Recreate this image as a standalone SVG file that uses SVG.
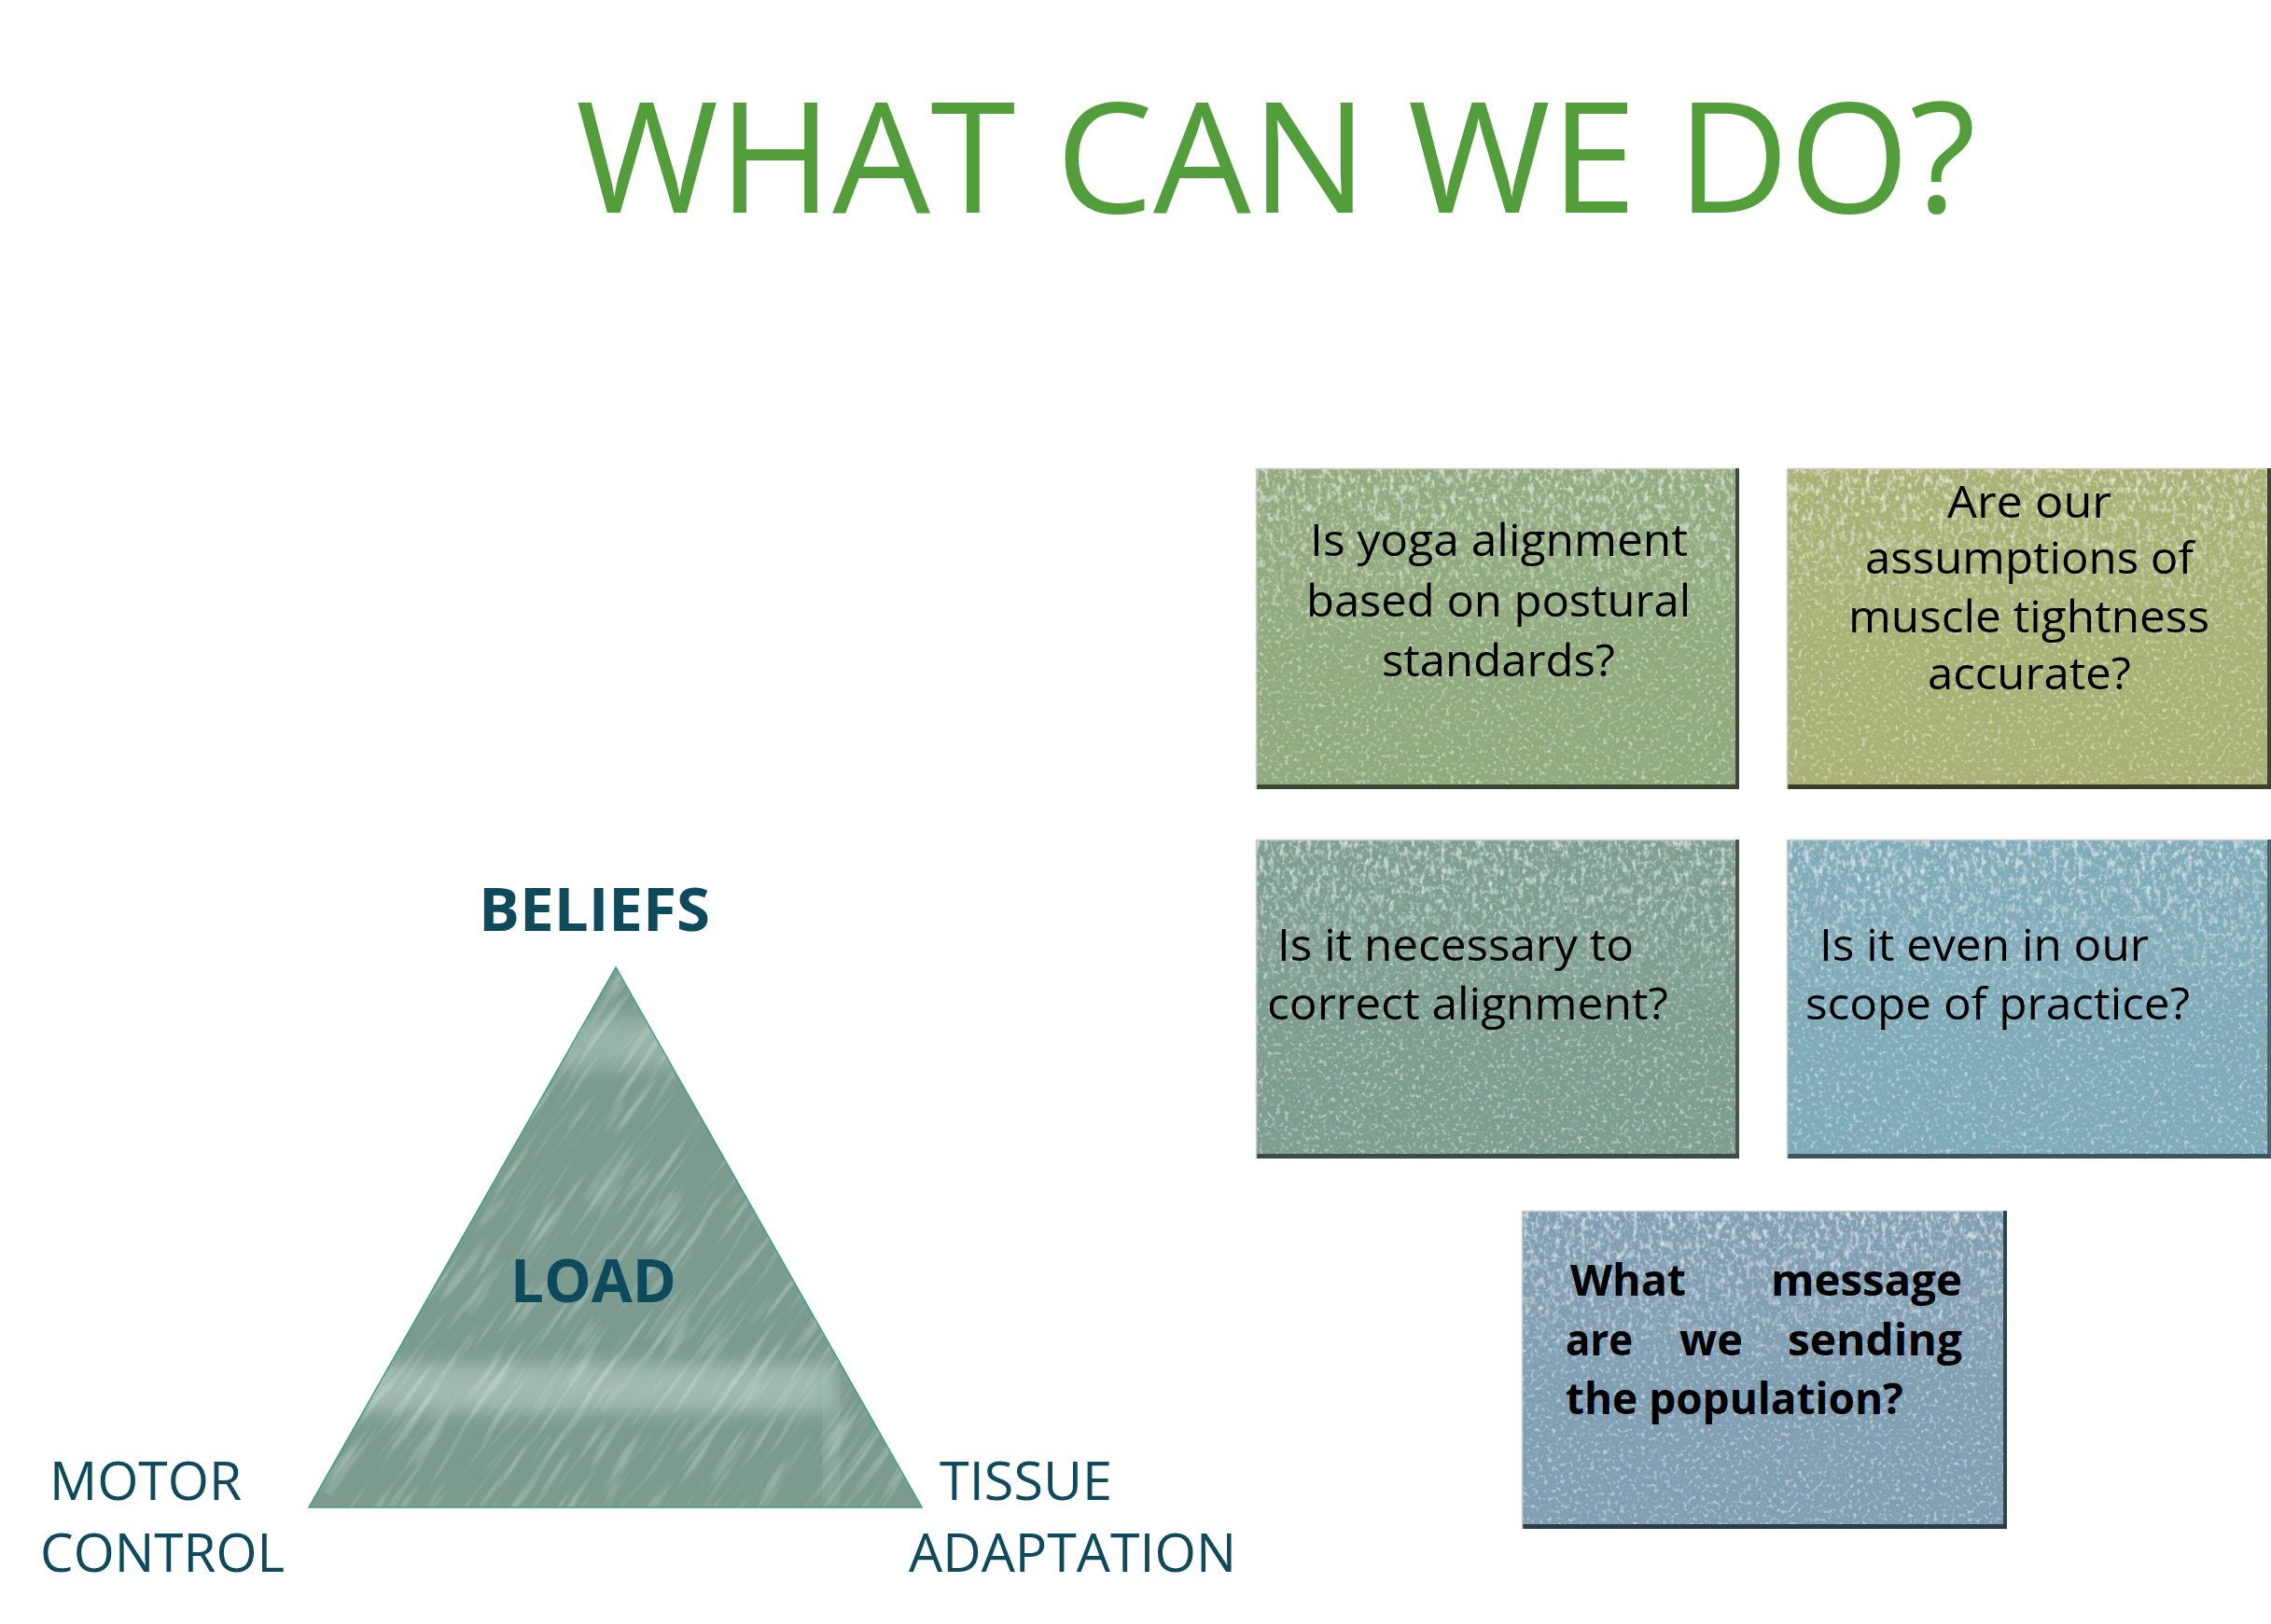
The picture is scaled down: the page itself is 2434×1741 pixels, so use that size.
<svg xmlns="http://www.w3.org/2000/svg" width="2434" height="1741" viewBox="0 0 2434 1741">
<style>
.title{font-family:"Open Sans","Liberation Sans",sans-serif;font-size:164px;fill:#529e3a}
.q{font-family:"Open Sans","Liberation Sans",sans-serif;font-size:48px;fill:#000}
.qb{font-family:"Open Sans","Liberation Sans",sans-serif;font-size:46px;font-weight:bold;fill:#000}
.lab{font-family:"Open Sans","Liberation Sans",sans-serif;font-size:56px;fill:#0d4a5b}
.labb{font-family:"Open Sans","Liberation Sans",sans-serif;font-size:64px;font-weight:bold;fill:#0d4a5b}
.edge-hi{fill:none;stroke:#c9cec6;stroke-width:1.5}
.spk{fill:#fff;filter:url(#spk);opacity:0.45}
.spk2{fill:#fff;filter:url(#spk2);opacity:0.55}
</style>
<defs>
<filter id="spk" x="0" y="0" width="100%" height="100%">
<feTurbulence type="fractalNoise" baseFrequency="0.22" numOctaves="2" seed="7" result="n"/>
<feColorMatrix in="n" type="matrix" values="0 0 0 0 1  0 0 0 0 1  0 0 0 0 1  4 0 0 0 -2.15" result="s"/>
<feComposite in="s" in2="SourceAlpha" operator="in"/>
</filter>
<filter id="spk2" x="0" y="0" width="100%" height="100%">
<feTurbulence type="fractalNoise" baseFrequency="0.18 0.1" numOctaves="2" seed="3" result="n"/>
<feColorMatrix in="n" type="matrix" values="0 0 0 0 1  0 0 0 0 1  0 0 0 0 1  4 0 0 0 -2.0" result="s"/>
<feComposite in="s" in2="SourceAlpha" operator="in"/>
</filter>
<filter id="streak" x="0" y="0" width="100%" height="100%">
<feTurbulence type="fractalNoise" baseFrequency="0.012 0.12" numOctaves="2" seed="5" result="n"/>
<feColorMatrix in="n" type="matrix" values="0 0 0 0 1  0 0 0 0 1  0 0 0 0 1  3 0 0 0 -1.5" result="s"/>
<feComposite in="s" in2="SourceAlpha" operator="in"/>
</filter>
<filter id="soft" x="-20%" y="-50%" width="140%" height="200%">
<feGaussianBlur stdDeviation="10"/>
</filter>
<linearGradient id="topfade" x1="0" y1="0" x2="0" y2="1">
<stop offset="0" stop-color="#fff" stop-opacity="1"/>
<stop offset="0.3" stop-color="#fff" stop-opacity="0.6"/>
<stop offset="0.55" stop-color="#fff" stop-opacity="0"/>
</linearGradient>
<mask id="topmask" maskContentUnits="objectBoundingBox">
<rect x="0" y="0" width="1" height="1" fill="url(#topfade)"/>
</mask>
<clipPath id="triclip"><polygon points="660,1037 331,1616 988,1616"/></clipPath>
</defs>

<g id="title">
<text class="title" x="617" y="228" textLength="1501" lengthAdjust="spacingAndGlyphs">WHAT CAN WE DO?</text>
</g>

<g id="connectors"></g>

<g id="box1">
<rect x="1346" y="502" width="518" height="344" fill="#91aa7e"/>
<rect class="spk" x="1346" y="502" width="518" height="344"/>
<rect class="spk2" x="1346" y="502" width="518" height="344" mask="url(#topmask)"/>
<rect x="1860" y="502" width="4" height="344" fill="#3f4a36"/>
<rect x="1346" y="841" width="518" height="5" fill="#3a4432"/>
<path class="edge-hi" d="M1346.5,846 V502.5 H1860"/>
<text class="q" x="1404" y="596" textLength="405" lengthAdjust="spacingAndGlyphs">Is yoga alignment</text>
<text class="q" x="1400" y="661" textLength="412" lengthAdjust="spacingAndGlyphs">based on postural</text>
<text class="q" x="1481" y="725" textLength="250" lengthAdjust="spacingAndGlyphs">standards?</text>
</g>

<g id="box2">
<rect x="1915" y="502" width="519" height="344" fill="#a9b175"/>
<rect class="spk" x="1915" y="502" width="519" height="344"/>
<rect class="spk2" x="1915" y="502" width="519" height="344" mask="url(#topmask)"/>
<rect x="2430" y="502" width="4" height="344" fill="#3f4230"/>
<rect x="1915" y="841" width="519" height="5" fill="#3a3d2c"/>
<path class="edge-hi" d="M1915.5,846 V502.5 H2430"/>
<text class="q" x="2087" y="555" textLength="176" lengthAdjust="spacingAndGlyphs">Are our</text>
<text class="q" x="1999" y="615" textLength="352" lengthAdjust="spacingAndGlyphs">assumptions of</text>
<text class="q" x="1981" y="678" textLength="387" lengthAdjust="spacingAndGlyphs">muscle tightness</text>
<text class="q" x="2066" y="739" textLength="218" lengthAdjust="spacingAndGlyphs">accurate?</text>
</g>

<g id="box3">
<rect x="1346" y="900" width="518" height="342" fill="#7e9f90"/>
<rect class="spk" x="1346" y="900" width="518" height="342"/>
<rect class="spk2" x="1346" y="900" width="518" height="342" mask="url(#topmask)"/>
<rect x="1860" y="900" width="4" height="342" fill="#46564f"/>
<rect x="1346" y="1237" width="518" height="5" fill="#3c4a44"/>
<path class="edge-hi" d="M1346.5,1242 V900.5 H1860"/>
<text class="q" x="1369" y="1030" textLength="382" lengthAdjust="spacingAndGlyphs">Is it necessary to</text>
<text class="q" x="1358" y="1093" textLength="430" lengthAdjust="spacingAndGlyphs">correct alignment?</text>
</g>

<g id="box4">
<rect x="1915" y="900" width="519" height="342" fill="#80abb8"/>
<rect class="spk" x="1915" y="900" width="519" height="342"/>
<rect class="spk2" x="1915" y="900" width="519" height="342" mask="url(#topmask)"/>
<rect x="2430" y="900" width="4" height="342" fill="#4a6470"/>
<rect x="1915" y="1237" width="519" height="5" fill="#3e5560"/>
<path class="edge-hi" d="M1915.5,1242 V900.5 H2430"/>
<text class="q" x="1950" y="1030" textLength="353" lengthAdjust="spacingAndGlyphs">Is it even in our</text>
<text class="q" x="1935" y="1093" textLength="412" lengthAdjust="spacingAndGlyphs">scope of practice?</text>
</g>

<g id="box5">
<rect x="1631" y="1298" width="520" height="341" fill="#819fb2"/>
<rect class="spk" x="1631" y="1298" width="520" height="341"/>
<rect class="spk2" x="1631" y="1298" width="520" height="341" mask="url(#topmask)"/>
<rect x="2147" y="1298" width="4" height="341" fill="#2f4450"/>
<rect x="1631" y="1634" width="520" height="5" fill="#2b3d48"/>
<path class="edge-hi" d="M1631.5,1639 V1298.5 H2147"/>
<text class="qb" x="1683" y="1389" textLength="124" lengthAdjust="spacingAndGlyphs">What</text>
<text class="qb" x="1898" y="1389" textLength="205" lengthAdjust="spacingAndGlyphs">message</text>
<text class="qb" x="1678" y="1453" textLength="72" lengthAdjust="spacingAndGlyphs">are</text>
<text class="qb" x="1800" y="1453" textLength="68" lengthAdjust="spacingAndGlyphs">we</text>
<text class="qb" x="1916" y="1453" textLength="187" lengthAdjust="spacingAndGlyphs">sending</text>
<text class="qb" x="1678" y="1516" textLength="362" lengthAdjust="spacingAndGlyphs">the population?</text>
</g>

<g id="triangle">
<polygon points="660,1037 331,1616 988,1616" fill="#7a9b8e"/>
<g clip-path="url(#triclip)">
<rect x="570" y="1090" width="240" height="55" fill="#e4f1ec" opacity="0.28" filter="url(#soft)"/>
<rect x="331" y="1462" width="560" height="52" fill="#e8f3ef" opacity="0.35" filter="url(#soft)"/>
<rect x="884" y="1462" width="14" height="154" fill="#dfeee8" opacity="0.25" filter="url(#soft)"/>
<g transform="rotate(-55 660 1330)">
<rect x="260" y="930" width="800" height="800" fill="#fff" filter="url(#streak)" opacity="0.28"/>
</g>
</g>
<polygon points="660,1037 331,1616 988,1616" fill="none" stroke="#3aa08a" stroke-width="1.5"/>
</g>

<g id="labels">
<text class="labb" x="513" y="998" textLength="248" lengthAdjust="spacingAndGlyphs">BELIEFS</text>
<text class="labb" x="547" y="1396" textLength="178" lengthAdjust="spacingAndGlyphs">LOAD</text>
<text class="lab" x="53" y="1608" textLength="206" lengthAdjust="spacingAndGlyphs">MOTOR</text>
<text class="lab" x="43" y="1685" textLength="262" lengthAdjust="spacingAndGlyphs">CONTROL</text>
<text class="lab" x="1007" y="1608" textLength="185" lengthAdjust="spacingAndGlyphs">TISSUE</text>
<text class="lab" x="974" y="1685" textLength="351" lengthAdjust="spacingAndGlyphs">ADAPTATION</text>
</g>
</svg>
